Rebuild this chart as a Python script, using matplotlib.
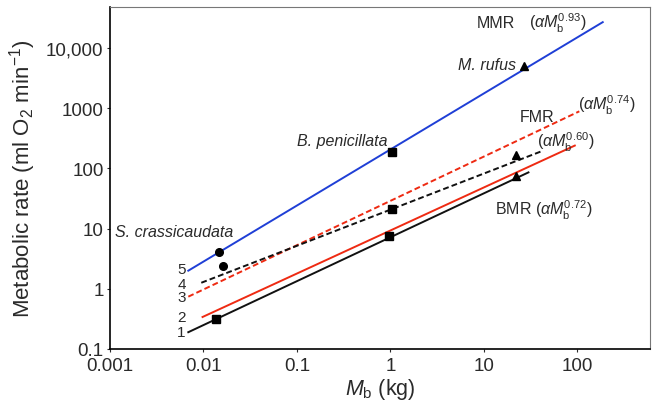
import matplotlib
matplotlib.use("Agg")
import matplotlib.pyplot as plt

plt.rcParams["font.family"] = ["Liberation Sans", "DejaVu Sans"]
plt.rcParams["mathtext.fontset"] = "custom"
plt.rcParams["mathtext.rm"] = "Liberation Sans"
plt.rcParams["mathtext.it"] = "Liberation Sans:italic"

TEXT = "#2a2a2a"

# allometric lines: body mass endpoints (kg) and metabolic rate endpoints (ml O2/min)
line_names = ["MMR", "FMR", "0.60", "0.72", "BMR"]
line_x = [(0.0069, 187), (0.0069, 105), (0.0095, 41), (0.0098, 94), (0.0069, 30)]
line_y = [(2.0, 27000), (0.74, 890), (1.26, 192), (0.34, 240), (0.19, 86)]
line_colors = ["#1f3fd6", "#ee2a12", "#111111", "#ee2a12", "#111111"]
line_styles = ["-", "--", "--", "-", "-"]
line_numbers = ["5", "3", "4", "2", "1"]
number_y = [2.15, 0.74, 1.2, 0.34, 0.19]

# species points
circle_x = [0.0148, 0.0163]
circle_y = [4.1, 2.4]
square_x = [0.0138, 1.05, 1.05, 0.97]
square_y = [0.31, 190, 21, 7.6]
triangle_x = [27, 22, 22]
triangle_y = [5000, 170, 74]

yticks = [0.1, 1, 10, 100, 1000, 10000]
ytick_labels = ["0.1", "1", "10", "100", "1000", "10,000"]
xticks = [0.001, 0.01, 0.1, 1, 10, 100]
xtick_labels = ["0.001", "0.01", "0.1", "1", "10", "100"]

fig = plt.figure(figsize=(6.54, 4.06), dpi=100)
ax = fig.add_axes([0.168, 0.138, 0.826, 0.842])

for xs, ys, c, ls in zip(line_x, line_y, line_colors, line_styles):
    if ls == "--":
        ax.plot(xs, ys, color=c, lw=1.4, dashes=(3, 1.6))
    else:
        ax.plot(xs, ys, color=c, lw=1.4)

ax.plot(circle_x, circle_y, "o", color="black", ms=5.5)
ax.plot(square_x, square_y, "s", color="black", ms=5.5)
ax.plot(triangle_x, triangle_y, "^", color="black", ms=5.5)

ax.set_xscale("log")
ax.set_yscale("log")
ax.set_xlim(0.001, 600)
ax.set_ylim(0.1, 48000)
ax.set_xticks(xticks)
ax.set_xticklabels(xtick_labels)
ax.set_yticks(yticks)
ax.set_yticklabels(ytick_labels)
ax.minorticks_off()
ax.tick_params(labelsize=13.5, colors=TEXT, length=2.5, width=0.8, pad=2)
ax.tick_params(axis="x", pad=3.5)
for side in ["top", "right"]:
    ax.spines[side].set_color("#777777")
for side in ["left", "bottom"]:
    ax.spines[side].set_linewidth(1.2)

ax.set_xlabel(r"$M_\mathrm{b}$ (kg)", fontsize=15.5, color=TEXT, labelpad=1)
ax.set_ylabel(r"Metabolic rate (ml O$_2$ min$^{-1}$)", fontsize=16, color=TEXT, labelpad=6)

fs = 11.5
kw = dict(fontsize=fs, color=TEXT, va="center")
ax.text(0.00113, 8.8, "S. crassicaudata", style="italic", **kw)
ax.text(0.1, 296, "B. penicillata", style="italic", **kw)
ax.text(5.3, 5270, "M. rufus", style="italic", **kw)
ax.text(8.5, 27000, "MMR", **kw)
ax.text(30.6, 27000, r"($\alpha M_\mathrm{b}^{0.93}$)", **kw)
ax.text(24.5, 740, "FMR", **kw)
ax.text(102, 1170, r"($\alpha M_\mathrm{b}^{0.74}$)", **kw)
ax.text(37, 285, r"($\alpha M_\mathrm{b}^{0.60}$)", **kw)
ax.text(13.2, 21.2, r"BMR ($\alpha M_\mathrm{b}^{0.72}$)", **kw)

for lbl, yv in zip(line_numbers, number_y):
    ax.text(0.0065, yv, lbl, fontsize=11, color=TEXT, ha="right", va="center")

fig.savefig("out.png", dpi=100)
